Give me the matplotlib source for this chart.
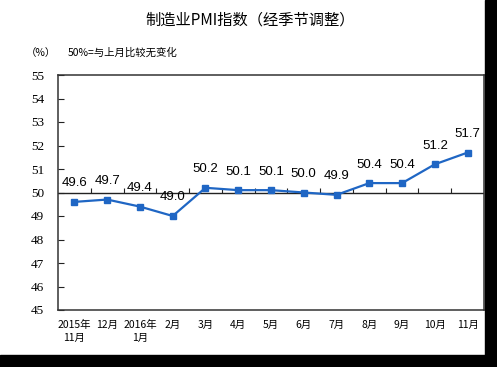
import matplotlib
matplotlib.use("Agg")
import matplotlib.pyplot as plt
from matplotlib.patches import Rectangle

# datos
meses = ["2015年\n11月", "12月", "2016年\n1月", "2月", "3月", "4月", "5月",
         "6月", "7月", "8月", "9月", "10月", "11月"]
pmi = [49.6, 49.7, 49.4, 49.0, 50.2, 50.1, 50.1, 50.0, 49.9, 50.4, 50.4, 51.2, 51.7]
y_ticks = list(range(45, 56))

plt.rcParams['font.family'] = ['Noto Sans CJK SC', 'DejaVu Sans']

fig = plt.figure(figsize=(4.97, 3.67), dpi=100)
ax = fig.add_axes([58 / 497, 57 / 367, 426 / 497, 235 / 367])

x = list(range(len(pmi)))
ax.plot(x, pmi, color='#1f66c4', lw=1.6, marker='s', ms=4, zorder=3)

for xi, v in zip(x, pmi):
    ax.annotate(f"{v:.1f}", (xi, v), xytext=(0, 9), textcoords='offset points',
                ha='center', va='bottom', fontsize=9.5, family='Liberation Sans')

ax.set_xlim(-0.5, len(pmi) - 0.5)
ax.set_ylim(45, 55)

# linea de 50 con marcas entre categorias
ax.axhline(50, color='#222222', lw=1, zorder=2)
ax.vlines([i + 0.5 for i in range(len(pmi) - 1)], 50, 50.18, color='#222222', lw=0.8)

ax.set_yticks(y_ticks)
ax.set_yticklabels([str(t) for t in y_ticks], family='Liberation Serif', fontsize=9.5)
ax.tick_params(axis='y', direction='in', length=4, width=0.8, pad=10, color='#222222')

ax.set_xticks(x)
ax.set_xticklabels(meses, fontsize=7.5, linespacing=1.4)
ax.tick_params(axis='x', length=0, pad=7)

for s in ax.spines.values():
    s.set_color('#333333')
    s.set_linewidth(1.1)

fig.text(250 / 497, 1 - 20 / 367, "制造业PMI指数（经季节调整）", ha='center', va='center',
         fontsize=11, fontweight='medium')
fig.text(26 / 497, 1 - 53 / 367, "（%）", ha='left', va='center', fontsize=7.5)
fig.text(68 / 497, 1 - 53 / 367, "50%=与上月比较无变化", ha='left', va='center', fontsize=7.5)

# bordes negros del recorte
fig.patches.append(Rectangle((485 / 497, 0), 12 / 497, 1, transform=fig.transFigure,
                             color='black', zorder=10))
fig.patches.append(Rectangle((0, 0), 1, 12 / 367, transform=fig.transFigure,
                             color='black', zorder=10))

fig.savefig("out.png", dpi=100)
